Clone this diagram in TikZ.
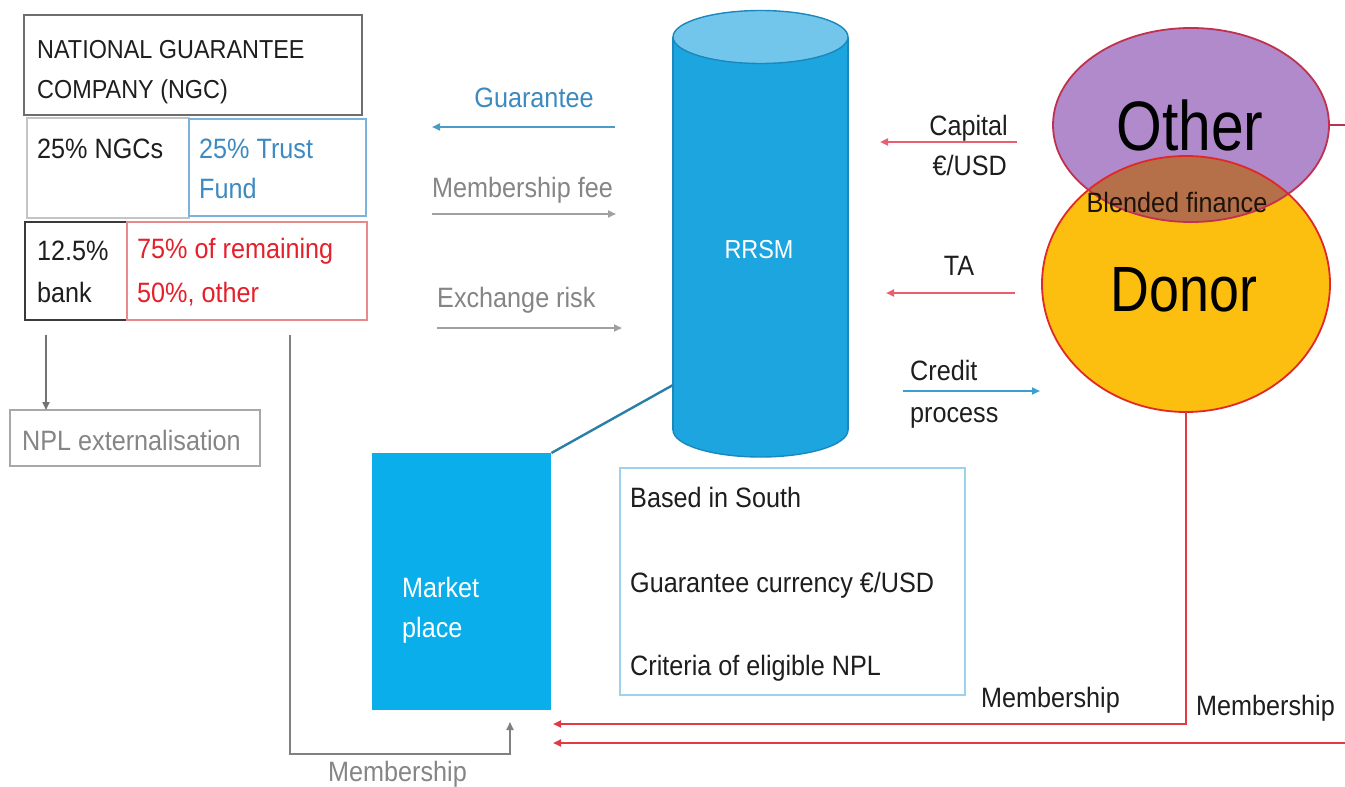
\documentclass[tikz,border=0pt]{standalone}
\usepackage{fontspec}
\setmainfont{Liberation Sans}[FakeStretch=0.9]
\newfontfamily\bigfont{Liberation Sans}[FakeStretch=0.84]
\usetikzlibrary{arrows.meta,shapes.geometric}

\newcommand\fsz[1]{\fontsize{#1}{#1}\selectfont}

\definecolor{ink}{HTML}{1E1E1E}
\definecolor{greytxt}{HTML}{858585}
\definecolor{greyline}{HTML}{A0A0A0}
\definecolor{bluetxt}{HTML}{3D8AC0}
\definecolor{blueline}{HTML}{4B9BC8}
\definecolor{credline}{HTML}{3AA0D0}
\definecolor{redtxt}{HTML}{E4202A}
\definecolor{pinkline}{HTML}{E86070}
\definecolor{membred}{HTML}{E03A48}
\definecolor{mktfill}{HTML}{0AAEEA}
\definecolor{cylbody}{HTML}{1CA5DE}
\definecolor{cyltop}{HTML}{72C6EC}
\definecolor{cyledge}{HTML}{1A88BD}
\definecolor{linkline}{HTML}{2A7FA8}
\definecolor{otherfill}{HTML}{B18ACB}
\definecolor{otheredge}{HTML}{C03050}
\definecolor{donorfill}{HTML}{FDBF0F}
\definecolor{donoredge}{HTML}{E02828}
\definecolor{blendfill}{HTML}{B5704A}
\definecolor{ngcedge}{HTML}{6E6E6E}
\definecolor{ngcsedge}{HTML}{C4C4C4}
\definecolor{trustedge}{HTML}{7AB4DC}
\definecolor{bankedge}{HTML}{3A3A3A}
\definecolor{remedge}{HTML}{E88A8A}
\definecolor{npledge}{HTML}{A8A8A8}
\definecolor{critedge}{HTML}{9CD2EA}

\begin{document}
\begin{tikzpicture}[x=1pt,y=-1pt,
  box/.style={draw=#1, line width=1.6pt, anchor=north west, inner sep=0pt, outer sep=0pt},
  txt/.style={anchor=base west, inner sep=0pt, font=\fsz{28}, text=ink},
  ctxt/.style={anchor=base, inner sep=0pt, font=\fsz{28}, text=ink},
  rtxt/.style={anchor=base east, inner sep=0pt, font=\fsz{28}, text=ink},
  tip/.style={-{Triangle[length=8pt,width=7pt]}},
  flow/.style={tip, line width=2.3pt},
  memb/.style={tip, line width=2.2pt, draw=membred},
]
\useasboundingbox (0,0) rectangle (1345,787);

% --- NGC ownership table ---
\node[box=ngcedge, minimum width=338pt, minimum height=100pt] (ngc) at (24,15) {};
\node[box=ngcsedge, minimum width=162pt, minimum height=100pt] (ngcs) at (27,118) {};
\node[box=trustedge, minimum width=177pt, minimum height=97pt] (trust) at (189,119) {};
\node[box=bankedge, minimum width=102pt, minimum height=98pt] (bank) at (25,222) {};
\node[box=remedge, minimum width=240pt, minimum height=98pt] (rem) at (127,222) {};

\node[txt, font=\fsz{26}] (ngcA) at (37,58) {NATIONAL GUARANTEE};
\node[txt, font=\fsz{26}] (ngcB) at (37,98) {COMPANY (NGC)};
\node[txt] (ngcsA) at (37,158) {25\% NGCs};
\node[txt, text=bluetxt] (trustA) at (199,158) {25\% Trust};
\node[txt, text=bluetxt] (trustB) at (199,198) {Fund};
\node[txt] (bankA) at (37,260) {12.5\%};
\node[txt] (bankB) at (37,302) {bank};
\node[txt, text=redtxt] (remA) at (137,258) {75\% of remaining};
\node[txt, text=redtxt] (remB) at (137,302) {50\%, other};

% --- NPL externalisation ---
\node[box=npledge, minimum width=250pt, minimum height=56pt] (npl) at (10,410) {};
\node[txt, text=greytxt] (nplT) at (22,450) {NPL externalisation};
\coordinate (bankDrop) at (46,335);
\draw[tip, line width=1.8pt, draw=black!55] (bankDrop) -- (bankDrop |- npl.north);

% --- Market place ---
\node[anchor=north west, fill=mktfill, minimum width=179pt, minimum height=257pt, inner sep=0pt] (mkt) at (372,453) {};
\node[txt, text=white] (mktA) at (402,597) {Market};
\node[txt, text=white] (mktB) at (402,637) {place};

% membership from the NGC side
\coordinate (remDrop) at (290,335);
\coordinate (mkIn) at (510,722);
\draw[tip, line width=1.8pt, draw=black!50] (remDrop) |- (mkIn |- 0,754) -- (mkIn);
\node[txt, text=greytxt] (membNGC) at (328,781) {Membership};

% --- RRSM cylinder ---
\filldraw[fill=cylbody, draw=cyledge, line width=1.4pt] (760.5,430) ellipse [x radius=87.5, y radius=27];
\fill[cylbody] (673,37) rectangle (848,430);
\draw[cyledge, line width=1.4pt] (673,37) -- (673,430) (848,37) -- (848,430);
\filldraw[fill=cyltop, draw=cyledge, line width=1.4pt] (760.5,37) ellipse [x radius=87.5, y radius=26.5];
\node[ctxt, text=white, font=\fsz{26}] (rrsm) at (759,258) {RRSM};
\coordinate (rrsmL) at (673,385);
\draw[linkline, line width=2.4pt] (mkt.north east) -- (rrsmL);

% --- flows between NGC and RRSM ---
\coordinate (gS) at (615,127); \coordinate (gE) at (432,127);
\draw[flow, draw=blueline] (gS) -- (gE);
\node[ctxt, text=bluetxt] (guar) at (534,107) {Guarantee};

\coordinate (fS) at (432,214); \coordinate (fE) at (616,214);
\draw[flow, draw=greyline] (fS) -- (fE);
\node[txt, text=greytxt] (fee) at (432,197) {Membership fee};

\coordinate (xS) at (437,328); \coordinate (xE) at (622,328);
\draw[flow, draw=greyline] (xS) -- (xE);
\node[txt, text=greytxt] (xr) at (437,307) {Exchange risk};

% --- Other / Donor ---
\node[ellipse, fill=donorfill, minimum width=288pt, minimum height=256pt, inner sep=0pt] (donor) at (1186,284) {};
\node[ellipse, fill=otherfill, minimum width=276pt, minimum height=194pt, inner sep=0pt] (other) at (1191,125) {};
\begin{scope}
  \clip (other.center) ellipse [x radius=138, y radius=97];
  \fill[blendfill] (donor.center) ellipse [x radius=144, y radius=128];
\end{scope}
\draw[otheredge, line width=1.8pt] (other.center) ellipse [x radius=138, y radius=97];
\draw[donoredge, line width=1.8pt] (donor.center) ellipse [x radius=144, y radius=128];
\node[anchor=center, inner sep=0pt, font=\bigfont\fsz{70}, text=black] (otherT) at (1190,125) {Other};
\node[anchor=center, inner sep=0pt, font=\bigfont\fsz{64}, text=black] (donorT) at (1184,290) {Donor};
\node[ctxt, text=black!85!brown] (blend) at (1177,212) {Blended finance};
\draw[otheredge, line width=1.8pt] (other.east) -- ++(20,0);

% --- flows between donors and RRSM ---
\coordinate (cS) at (1017,142); \coordinate (cE) at (880,142);
\draw[flow, draw=pinkline] (cS) -- (cE);
\node[rtxt] (capA) at (1008,135) {Capital};
\node[rtxt] (capB) at (1007,175) {€/USD};

\coordinate (tS) at (1015,293); \coordinate (tE) at (886,293);
\draw[flow, draw=pinkline] (tS) -- (tE);
\node[ctxt] (ta) at (959,275) {TA};

\coordinate (pS) at (903,391); \coordinate (pE) at (1040,391);
\draw[flow, draw=credline] (pS) -- (pE);
\node[txt] (credA) at (910,380) {Credit};
\node[txt] (credB) at (910,422) {process};

% --- RRSM criteria ---
\node[box=critedge, minimum width=345pt, minimum height=227pt] (crit) at (620,468) {};
\node[txt] (critA) at (630,507) {Based in South};
\node[txt] (critB) at (630,592) {Guarantee currency €/USD};
\node[txt] (critC) at (630,675) {Criteria of eligible NPL};

% --- membership flows into the market place ---
\coordinate (mkA) at (553,724);
\coordinate (mkB) at (553,743);
\coordinate (farR) at (1345,743);
\draw[memb] (donor.south) |- (mkA);
\draw[memb] (farR) -- (mkB);
\node[txt] (membD) at (981,707) {Membership};
\node[txt] (membO) at (1196,715) {Membership};

\end{tikzpicture}
\end{document}
